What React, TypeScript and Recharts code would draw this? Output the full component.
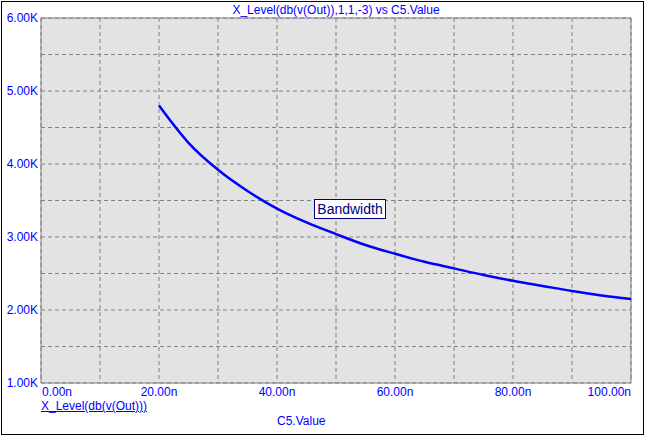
import React from "react";
import { LineChart, Line, XAxis, YAxis, CartesianGrid, ReferenceArea } from "recharts";

const capValues = [20, 25, 30, 35, 40, 45, 50, 55, 60, 65, 70, 75, 80, 85, 90, 95, 100];
const bandwidthK = [4.8, 4.29, 3.92, 3.63, 3.39, 3.2, 3.04, 2.89, 2.77, 2.66, 2.57, 2.48, 2.4, 2.33, 2.26, 2.2, 2.15];
const xTicks = [0, 10, 20, 30, 40, 50, 60, 70, 80, 90, 100];
const yTicks = [1, 1.5, 2, 2.5, 3, 3.5, 4, 4.5, 5, 5.5, 6];

const data = capValues.map((c, i) => ({ c, bw: bandwidthK[i] }));

const BLUE = "#0000ff";
const FONT = "'Liberation Sans', Arial, sans-serif";

const XTick = (props: any) => {
  const { x, payload } = props;
  const v = payload.value;
  if (v % 20 !== 0) return null;
  const anchor = v === 0 ? "start" : v === 100 ? "end" : "middle";
  return (
    <text x={x + (v === 0 ? 1 : 0)} y={396} textAnchor={anchor} fill={BLUE} fontSize={12} fontFamily={FONT}>
      {v.toFixed(2) + "n"}
    </text>
  );
};

const YTick = (props: any) => {
  const { y, payload } = props;
  const v = payload.value;
  if (v % 1 !== 0) return null;
  return (
    <text x={38} y={y + 4} textAnchor="end" fill={BLUE} fontSize={12} fontFamily={FONT}>
      {v.toFixed(2) + "K"}
    </text>
  );
};

export default function App() {
  return (
    <div style={{ position: "absolute", left: 0, top: 0, width: 645, height: 436, background: "#fff", fontFamily: FONT }}>
      <div style={{ position: "absolute", left: 1, top: 1, width: 643, height: 434, boxSizing: "border-box", border: "1px solid #000" }} />
      <LineChart width={645} height={436} data={data} margin={{ top: 18, right: 14, left: 0, bottom: 0 }}>
        <CartesianGrid fill="#e3e3e3" stroke="#808080" strokeDasharray="4 3" verticalValues={xTicks} horizontalValues={yTicks} />
        <XAxis dataKey="c" type="number" domain={[0, 100]} ticks={xTicks} height={53} axisLine={false} tickLine={false} tick={<XTick />} interval={0} />
        <YAxis type="number" domain={[1, 6]} ticks={yTicks} width={41} axisLine={false} tickLine={false} tick={<YTick />} interval={0} />
        <ReferenceArea x1={0} x2={100} y1={1} y2={6} fill="none" stroke="#808080" strokeWidth={1} fillOpacity={0} ifOverflow="visible" />
        <Line dataKey="bw" type="monotone" stroke={BLUE} strokeWidth={2.5} dot={false} isAnimationActive={false} />
      </LineChart>
      <div style={{ position: "absolute", left: 0, width: 672, top: 3, textAlign: "center", color: BLUE, fontSize: 12, whiteSpace: "nowrap" }}>
        X_Level(db(v(Out)),1,1,-3) vs C5.Value
      </div>
      <div style={{ position: "absolute", left: 41, top: 399, color: BLUE, fontSize: 12, textDecoration: "underline", whiteSpace: "nowrap" }}>
        X_Level(db(v(Out)))
      </div>
      <div style={{ position: "absolute", left: 277, top: 414, color: BLUE, fontSize: 12, whiteSpace: "nowrap" }}>
        C5.Value
      </div>
      <div style={{ position: "absolute", left: 314, top: 199, width: 72, height: 20, boxSizing: "border-box", border: "1px solid #000080", background: "#fff", color: "#000080", fontSize: 14, lineHeight: "18px", textAlign: "center", whiteSpace: "nowrap" }}>
        Bandwidth
      </div>
    </div>
  );
}
